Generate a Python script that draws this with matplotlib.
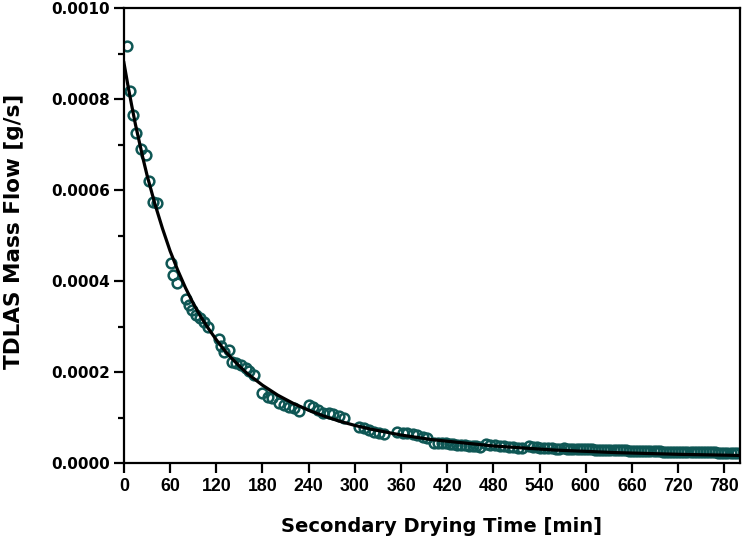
import matplotlib
matplotlib.use("Agg")
import matplotlib.pyplot as plt
from matplotlib.ticker import MultipleLocator, FormatStrFormatter

plt.rcParams['font.family'] = ['DejaVu Sans']
plt.rcParams['font.weight'] = 'bold'

# measured TDLAS mass flow during secondary drying
time_min = [4, 8, 12, 16, 22, 29, 32, 38, 43,
            61, 64, 69, 80, 84, 89, 94, 99, 104, 109,
            123, 126, 130, 137, 140, 146, 152, 158, 163, 169,
            180, 187, 192, 202, 208, 215, 221, 227,
            240, 246, 252, 259, 266, 272, 279, 286,
            306, 312, 319, 325, 332, 338,
            355, 362, 368, 375, 381, 388, 394,
            403, 408, 413, 418, 423, 428, 433, 438, 443, 448, 453, 458, 463,
            470, 476, 482, 488, 494, 500, 506, 512, 517,
            526, 531, 536, 541, 546, 551, 556, 561, 565,
            572, 576, 580, 584, 588, 592, 596, 600, 604, 608, 612,
            616, 620, 624, 628, 632, 636, 640, 644, 648, 652, 656,
            660, 664, 668, 672, 676, 680, 684, 688, 692, 696, 700,
            704, 708, 712, 716, 720, 724, 728, 732, 736, 740, 744,
            748, 752, 756, 760, 764, 768, 772, 776, 780, 784, 788, 792, 796]

mass_flow = [0.000917, 0.000817, 0.000764, 0.000726, 0.000691, 0.000678, 0.000621, 0.000574, 0.000571,
             0.000440, 0.000413, 0.000395, 0.000360, 0.000347, 0.000336, 0.000325, 0.000318, 0.000310, 0.000300,
             0.000272, 0.000257, 0.000245, 0.000248, 0.000223, 0.000219, 0.000216, 0.000208, 0.000203, 0.000194,
             0.000154, 0.000146, 0.000143, 0.000132, 0.000128, 0.000124, 0.000121, 0.000115,
             0.000128, 0.000124, 0.000117, 0.000111, 0.000110, 0.000107, 0.000104, 0.000100,
             0.000080, 0.000077, 0.000073, 0.000069, 0.000066, 0.000064,
             0.000069, 0.000067, 0.000066, 0.000064, 0.000062, 0.000058, 0.000055,
             0.000045, 0.000044, 0.000043, 0.000043, 0.000042, 0.000041, 0.000040, 0.000040, 0.000039,
             0.000038, 0.000038, 0.000037, 0.000036,
             0.000041, 0.000040, 0.000039, 0.000038, 0.000037, 0.000036, 0.000035, 0.000034, 0.000033,
             0.000037, 0.000036, 0.000035, 0.000034, 0.000033, 0.000032, 0.000032, 0.000031, 0.000030,
             0.0000320, 0.0000318, 0.0000315, 0.0000312, 0.0000310, 0.0000308, 0.0000305, 0.0000303, 0.0000300, 0.0000298, 0.0000296,
             0.0000294, 0.0000292, 0.0000290, 0.0000288, 0.0000286, 0.0000284, 0.0000282, 0.0000280, 0.0000278, 0.0000276, 0.0000274,
             0.0000272, 0.0000270, 0.0000268, 0.0000266, 0.0000264, 0.0000262, 0.0000260, 0.0000258, 0.0000256, 0.0000254, 0.0000252,
             0.0000250, 0.0000249, 0.0000248, 0.0000246, 0.0000245, 0.0000244, 0.0000242, 0.0000241, 0.0000240, 0.0000238, 0.0000237,
             0.0000236, 0.0000235, 0.0000234, 0.0000233, 0.0000232, 0.0000231, 0.0000230, 0.0000229, 0.0000228, 0.0000227, 0.0000226,
             0.0000225, 0.0000224]

# fitted decay curve
fit_t = [0, 5, 10, 15, 20, 25, 30, 40, 50, 60, 70, 80, 90, 100, 110, 120, 130, 140, 150, 160,
         180, 200, 220, 240, 260, 280, 300, 320, 360, 400, 480, 560, 640, 720, 800]
fit_v = [0.000880, 0.000832, 0.000787, 0.000744, 0.000706, 0.000668, 0.000633, 0.000571, 0.000516,
         0.000466, 0.0004235, 0.000385, 0.000351, 0.000321, 0.000295, 0.000271, 0.000249, 0.000230,
         0.000213, 0.000197, 0.000171, 0.000149, 0.000131, 0.000116, 0.000103, 0.000092, 0.0000826,
         0.0000746, 0.0000615, 0.0000514, 0.0000374, 0.0000284, 0.0000228, 0.0000191, 0.0000166]

fig = plt.figure(figsize=(7.42, 5.40), dpi=100)
ax = fig.add_axes([0.167, 0.1426, 0.830, 0.8424])

ax.plot(time_min, mass_flow, linestyle='none', marker='o', markersize=7,
        markerfacecolor='none', markeredgecolor='#0f5755', markeredgewidth=1.8)
ax.plot(fit_t, fit_v, color='black', linewidth=2.3)

ax.set_xlim(0, 800)
ax.set_ylim(0, 0.001)
ax.xaxis.set_major_locator(MultipleLocator(60))
ax.yaxis.set_major_locator(MultipleLocator(0.0002))
ax.yaxis.set_minor_locator(MultipleLocator(0.0001))
ax.yaxis.set_major_formatter(FormatStrFormatter('%.4f'))

for s in ax.spines.values():
    s.set_linewidth(1.6)
ax.tick_params(axis='both', which='major', direction='out', length=7, width=1.6)
ax.tick_params(axis='x', which='major', pad=4)
ax.tick_params(axis='y', which='major', pad=3, labelsize=11)
ax.tick_params(axis='y', which='minor', direction='out', length=4.3, width=1.6)
for lab in ax.get_xticklabels():
    lab.set_fontfamily('Liberation Sans')
    lab.set_fontsize(12.8)
    lab.set_fontweight('bold')
for lab in ax.get_yticklabels():
    lab.set_fontweight('bold')

ax.set_xlabel('Secondary Drying Time [min]', fontsize=14, fontweight='bold')
ax.set_ylabel('TDLAS Mass Flow [g/s]', fontsize=15.5, fontweight='bold')
ax.xaxis.set_label_coords(0.515, -0.118)
ax.yaxis.set_label_coords(-0.163, 0.51)

fig.savefig('out.png', dpi=100)
